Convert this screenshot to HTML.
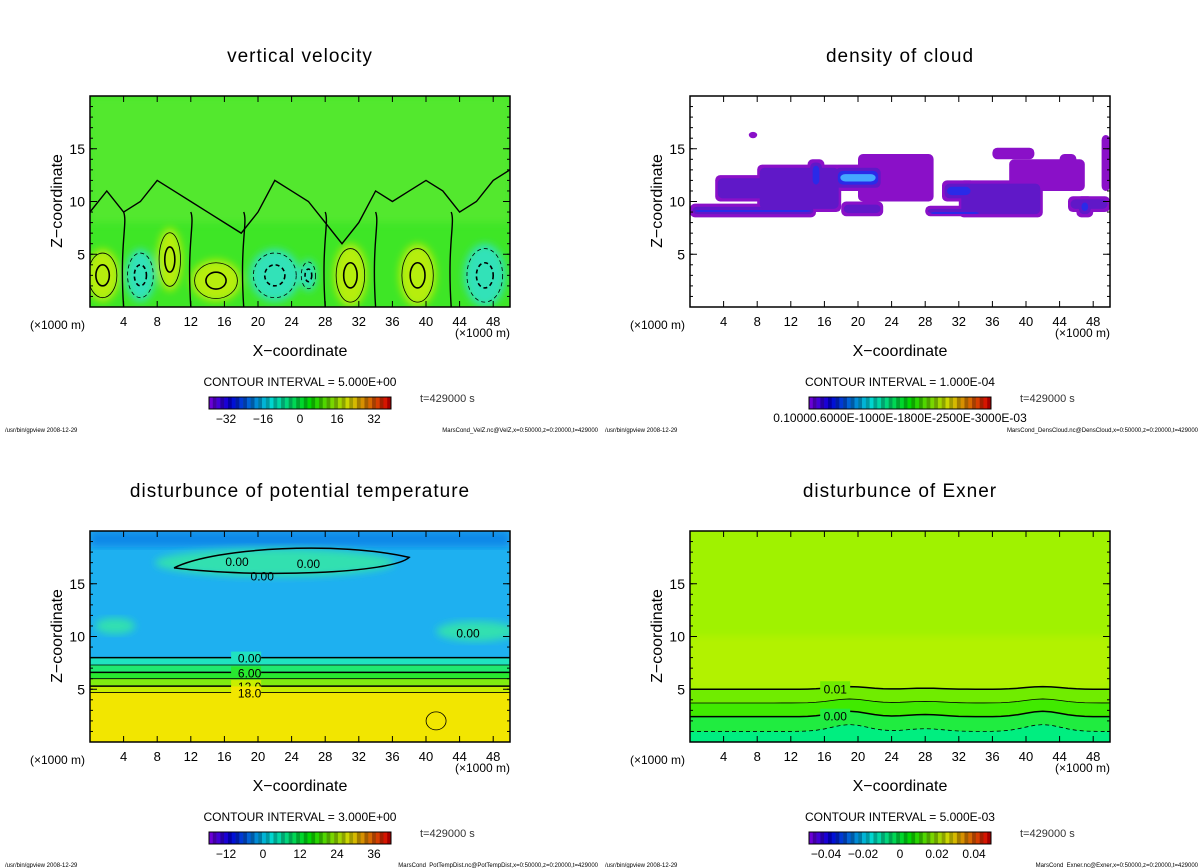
<!DOCTYPE html>
<html><head><meta charset="utf-8"><style>
body{margin:0;background:#fff;width:1200px;height:868px;overflow:hidden;font-family:"Liberation Sans",sans-serif}
svg{position:absolute;left:0;top:0}
</style></head><body>
<svg id="s" width="1200" height="868" xmlns="http://www.w3.org/2000/svg">
<defs><filter id="bl" x="-20%" y="-20%" width="140%" height="140%"><feGaussianBlur stdDeviation="4"/></filter>
<filter id="bl2"><feGaussianBlur stdDeviation="1.5"/></filter></defs>
</svg>
<script>
const xTicks=[4,8,12,16,20,24,28,32,36,40,44,48];
const zTicks=[5,10,15];
const velBars=["-32","-16","0","16","32"];
const cloudBars=["0.10000.6000E-1000E-1800E-2500E-3000E-03"];
const tempBars=["-12","0","12","24","36"];
const exnerBars=["-0.04","-0.02","0","0.02","0.04"];
// velocity blobs: x(km), z(km), rx, rz, sign
const velX=[1.5,9.5,15,31,39,6,22,47,26];
const velZ=[3,4.5,2.5,3,3,3,3,3,3];
const velRX=[2,1.5,3,2,2.2,1.8,3,2.5,1];
const velRZ=[2.5,3,2,3,3,2.5,2.5,3,1.5];
const velS=[1,1,1,1,1,-1,-1,-1,-1];
// zero contour height (z) sampled every 2 km
const velZero=[9,11,9,10,12,11,10,9,8,7,9,12,11,10,8,6,8,11,10,11,12,11,9,10,12,13];
// potential temp band boundaries (z) and contour labels
const tempLevels=[8.0,7.3,6.6,6.0,5.3,4.7];
const tempLabels=["0.00","","6.00","","12.0","18.0"];
// exner contour levels
const exnerZ=[5.0,3.7,2.4,1.0];
const exnerLabels=["0.01","","0.00",""];
// cloud patches: x0,x1,z0,z1,intensity
const cloudX0=[0,3,8,18,20,28,32,38,36,45,49,14,17,30,44,46,7];
const cloudX1=[15,13,18,23,29,35,42,47,41,50,50,16,23,34,46,48,8];
const cloudZ0=[8.5,10,9,8.6,10,8.6,8.5,11,14,9,11,11,11,10,12,8.5,16];
const cloudZ1=[9.8,12.5,13.5,10,14.5,9.6,12,14,15.1,10.5,16.3,14,13.5,12,14.5,10.5,16.6];
const cloudI=[2,1,1,1,0,2,1,0,0,1,0,2,3,2,0,2,0];

const S=document.getElementById('s');const NS="http://www.w3.org/2000/svg";
function el(t,a,p){const e=document.createElementNS(NS,t);for(const k in a)e.setAttribute(k,a[k]);(p||S).appendChild(e);return e;}
function txt(x,y,s,sz,anc,p,extra){const e=el('text',Object.assign({x:x,y:y,'font-size':sz,'text-anchor':anc||'middle',fill:'#000','font-family':'Liberation Sans, sans-serif'},extra||{}),p);e.textContent=s;return e;}

function panel(ox,oy,title,ci,bars,fn,name){
  const L=ox+90,R=ox+510,T=oy,B=oy+211;
  const sx=v=>L+(R-L)*v/50, sz=v=>B-(B-T)*v/20;
  const g=el('g',{});
  
  
  const t=txt(ox+300,oy-34,title,19,'middle',g,{'letter-spacing':'1'});
  
  const cp='cp'+ox+oy;const c=el('clipPath',{id:cp},g);el('rect',{x:L,y:T,width:R-L,height:B-T},c);
  const pa=el('g',{'clip-path':'url(#'+cp+')'},g);
  
  fn(pa,sx,sz,L,R,T,B);
  el('rect',{x:L,y:T,width:R-L,height:B-T,fill:'none',stroke:'#000','stroke-width':1.5},g);
  xTicks.forEach(v=>{el('line',{x1:sx(v),x2:sx(v),y1:B,y2:B-6,stroke:'#000'},g);el('line',{x1:sx(v),x2:sx(v),y1:T,y2:T+6,stroke:'#000'},g);
    const l=txt(sx(v),B+19,v,13,'middle',g);});
  for(let v=1;v<20;v++){el('line',{x1:L,x2:L+3,y1:sz(v),y2:sz(v),stroke:'#000'},g);el('line',{x1:R,x2:R-3,y1:sz(v),y2:sz(v),stroke:'#000'},g);}
  zTicks.forEach(v=>{el('line',{x1:L,x2:L+7,y1:sz(v),y2:sz(v),stroke:'#000'},g);el('line',{x1:R,x2:R-7,y1:sz(v),y2:sz(v),stroke:'#000'},g);
    const l=txt(L-5,sz(v)+5,v,14,'end',g);});
  txt(ox+30,oy+233,'(×1000 m)',12,'start',g);
  txt(ox+455,oy+241,'(×1000 m)',12,'start',g);
  const xl=txt(ox+300,oy+260,'X−coordinate',16,'middle',g);
  const yl=txt(0,0,'Z−coordinate',16,'middle',g,{transform:`translate(${ox+62},${oy+105}) rotate(-90)`});
  txt(ox+300,oy+290,ci,12,'middle',g);
  const cb=el('g',{},g);
  const n=48;for(let i=0;i<n;i++){const f=i/(n-1);const h=270-f*270;const li=i%2?32:42;
    el('rect',{x:ox+209+i*182/n,y:oy+301,width:182/n+0.3,height:12,fill:`hsl(${h},100%,${li}%)`},cb);}
  el('rect',{x:ox+209,y:oy+301,width:182,height:12,fill:'none',stroke:'#000'},cb);
  if(bars.length===1){txt(ox+300,oy+326,bars[0],12,'middle',g);}
  else bars.forEach((b,i)=>txt(ox+226+i*37,oy+327,b.replace('-','−'),12,'middle',g));
  txt(ox+420,oy+306,'t=429000 s',11,'start',g,{fill:'#333'});
  txt(ox+5,oy+336,'/usr/bin/gpview  2008-12-29',6,'start',g);
  txt(ox+598,oy+336,'MarsCond_'+name+'.nc@'+name+',x=0:50000,z=0:20000,t=429000',6,'end',g);
}

// vertical velocity
panel(0,96,'vertical velocity','CONTOUR INTERVAL = 5.000E+00',velBars,(g,sx,sz,L,R,T,B)=>{
  el('rect',{x:L,y:T,width:R-L,height:B-T,fill:'#3ee626'},g);
  el('rect',{x:L,y:sz(20),width:R-L,height:sz(8)-sz(20),fill:'#52e82e',filter:'url(#bl)'},g);
  const bg=el('g',{filter:'url(#bl)'},g);
  velX.forEach((x,i)=>{const e=el('ellipse',{cx:sx(x),cy:sz(velZ[i]),rx:velRX[i]*8.4,ry:velRZ[i]*10.5,fill:velS[i]>0?'#b6ee10':'#30e2b8'},bg);
    });
  velX.forEach((x,i)=>{for(let k=1;k<=2;k++){el('ellipse',{cx:sx(x),cy:sz(velZ[i]),rx:velRX[i]*8.4*(1.3-0.45*k),ry:velRZ[i]*10.5*(1.3-0.45*k),fill:'none',stroke:'#000','stroke-width':k==2?1.6:0.8,'stroke-dasharray':velS[i]<0?'4,3':'none'},g);}});
  let d='M'+L+','+sz(velZero[0]);velZero.forEach((z,i)=>{d+=' L'+sx(i*2)+','+sz(z);});
  el('path',{d:d,fill:'none',stroke:'#000','stroke-width':1.4},g);
  [4,12,18.3,28,34,43].forEach(x=>el('path',{d:`M${sx(x)},${B} C${sx(x-0.5)},${sz(6)} ${sx(x+0.5)},${sz(8)} ${sx(x)},${sz(9)}`,fill:'none',stroke:'#000','stroke-width':1.4},g));
},'VelZ');

// density of cloud
panel(600,96,'density of cloud','CONTOUR INTERVAL = 1.000E-04',cloudBars,(g,sx,sz,L,R,T,B)=>{
  el('rect',{x:L,y:T,width:R-L,height:B-T,fill:'#fff'},g);
  const cols=['#8a10c8','#6018c8','#2a2ae8','#44a8ff'];
  [0,1,2,3].forEach(lv=>cloudX0.forEach((x0,i)=>{if(cloudI[i]<lv)return;const sh=lv*0.3;
    const r=el('rect',{x:sx(x0+sh),y:sz(cloudZ1[i]-sh),width:Math.max(2,sx(cloudX1[i]-sh)-sx(x0+sh)),height:Math.max(2,sz(cloudZ0[i]+sh)-sz(cloudZ1[i]-sh)),rx:5,fill:cols[lv]},g);
    }));
},'DensCloud');

// potential temperature
panel(0,531,'disturbunce of potential temperature','CONTOUR INTERVAL = 3.000E+00',tempBars,(g,sx,sz,L,R,T,B)=>{
  el('rect',{x:L,y:T,width:R-L,height:B-T,fill:'#1eb0f0'},g);
  el('rect',{x:L,y:T,width:R-L,height:sz(18.5)-T,fill:'#1088e8',filter:'url(#bl)'},g);
  el('ellipse',{cx:sx(22),cy:sz(17),rx:120,ry:14,fill:'#30e0b0',filter:'url(#bl)'},g);
  el('ellipse',{cx:sx(3),cy:sz(11),rx:20,ry:8,fill:'#30e0b0',filter:'url(#bl)'},g);
  el('ellipse',{cx:sx(46),cy:sz(10.5),rx:40,ry:10,fill:'#30e0b0',filter:'url(#bl)'},g);
  const fills=['#20e2c0','#20e870','#28e830','#80ec10','#c8ee00'];
  tempLevels.forEach((z,i)=>{if(i<5)el('rect',{x:L,y:sz(z),width:R-L,height:sz(tempLevels[i+1])-sz(z),fill:fills[i]},g);});
  el('rect',{x:L,y:sz(4.7),width:R-L,height:B-sz(4.7),fill:'#f2e600'},g);
  tempLevels.forEach((z,i)=>{el('line',{x1:L,x2:R,y1:sz(z),y2:sz(z),stroke:'#000','stroke-width':i%2?0.8:1.5},g);
    if(tempLabels[i]){el('rect',{x:sx(16.8),y:sz(z)-6,width:30,height:12,fill:fills[i]||'#f2e600'},g);txt(sx(19),sz(z)+5,tempLabels[i],12,'middle',g);}});
  el('path',{d:`M${sx(10)},${sz(16.5)} C${sx(15)},${sz(18.5)} ${sx(30)},${sz(19)} ${sx(38)},${sz(17.5)} C${sx(36)},${sz(16)} ${sx(20)},${sz(15.5)} ${sx(10)},${sz(16.5)}`,fill:'none',stroke:'#000','stroke-width':1.5},g);
  txt(sx(17.5),sz(16.7),'0.00',12,'middle',g);txt(sx(20.5),sz(15.3),'0.00',12,'middle',g);txt(sx(26),sz(16.5),'0.00',12,'middle',g);txt(sx(45),sz(9.9),'0.00',12,'middle',g);
  el('ellipse',{cx:sx(41.2),cy:sz(2),rx:10,ry:9,fill:'none',stroke:'#000','stroke-width':0.8},g);
},'PotTempDist');

// exner
panel(600,531,'disturbunce of Exner','CONTOUR INTERVAL = 5.000E-03',exnerBars,(g,sx,sz,L,R,T,B)=>{
  el('rect',{x:L,y:T,width:R-L,height:B-T,fill:'#a0f200'},g);
  el('rect',{x:L,y:sz(10),width:R-L,height:sz(5)-sz(10),fill:'#b2f200',filter:'url(#bl)'},g);
  const fills=['#70ec00','#40ea00','#20ec40','#00ee80'];
  exnerZ.forEach((z,i)=>{
    let d=`M${L},${sz(z)}`;for(let x=0;x<=50;x+=1){const b=0.5*Math.exp(-Math.pow((x-19)/3,2))+0.5*Math.exp(-Math.pow((x-42)/3,2))+0.2*Math.exp(-Math.pow((x-28)/3,2));d+=` L${sx(x)},${sz(z+b*(1.5-z/5))}`;}
    el('path',{d:d+` L${R},${B} L${L},${B} Z`,fill:fills[i]},g);
    el('path',{d:d,fill:'none',stroke:'#000','stroke-width':i%2?0.8:1.5,'stroke-dasharray':i==3?'4,3':'none'},g);
    if(exnerLabels[i]){el('rect',{x:sx(15.5),y:sz(z)-8,width:30,height:13,fill:fills[i]},g);txt(sx(17.3),sz(z)+4,exnerLabels[i],12,'middle',g);}});
},'Exner');
</script>
</body></html>
